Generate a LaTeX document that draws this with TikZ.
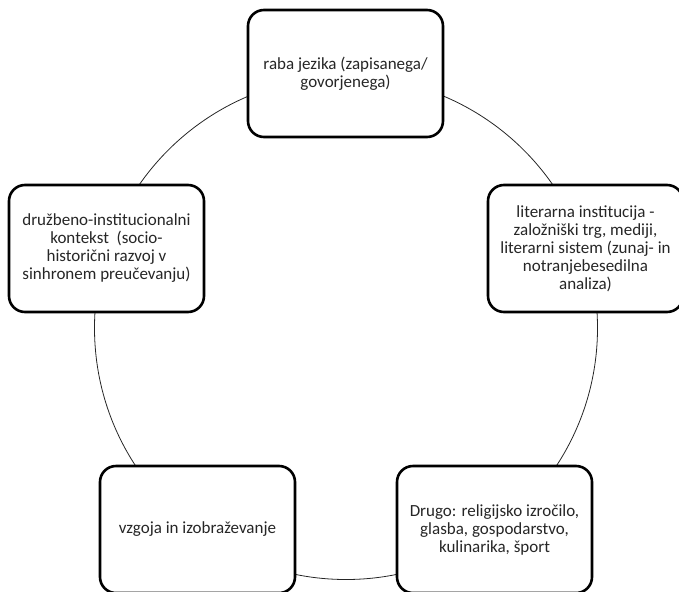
\documentclass[tikz,border=0pt]{standalone}
\usepackage{fontspec}
\setmainfont{Carlito}
\usepackage{tikz}
\usetikzlibrary{positioning}
\newcommand{\topicfont}{\fontsize{17pt}{18pt}\selectfont}
\tikzset{
  topicbox/.style={draw=black,line width=2.6pt,rounded corners=16pt,fill=white,text=black!85,minimum width=195pt,minimum height=127pt,align=center,font=\topicfont,inner sep=3pt},
  ring/.style={line width=0.8pt,draw=black!85}
}

\begin{document}
\begin{tikzpicture}[x=1pt,y=-1pt]
\useasboundingbox (0,0) rectangle (679,591);
\coordinate (hub) at (346,328);
\draw[ring] (hub) circle[radius=251.5pt];
\node[topicbox] (raba) at (345.5,73.5) {raba jezika (zapisanega/\\govorjenega)};
\node[topicbox] (druzba) at (106.5,248.5) {družbeno-institucionalni\\kontekst\ \ (socio-\\historični razvoj v\\sinhronem preučevanju)};
\node[topicbox] (lit) at (585.5,248.5) {literarna institucija -\\založniški trg, mediji,\\literarni sistem (zunaj- in\\notranjebesedilna\\analiza)};
\node[topicbox] (vzgoja) at (197.5,529.5) {vzgoja in izobraževanje};
\node[topicbox] (drugo) at (494.5,529.5) {Drugo: religijsko izročilo,\\glasba, gospodarstvo,\\kulinarika, šport};
\end{tikzpicture}
\end{document}
